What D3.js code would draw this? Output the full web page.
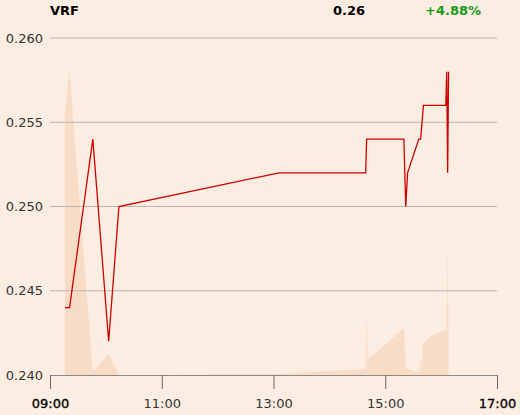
<!DOCTYPE html>
<html><head><meta charset="utf-8">
<script src="https://cdn.jsdelivr.net/npm/d3@7"></script>
<style>
html,body{margin:0;padding:0;background:#fbede1;}
svg{display:block;font-family:"DejaVu Sans",sans-serif;}
</style></head>
<body><svg id="c" width="520" height="415"></svg>
<script>
const symbol = "VRF";
const lastPrice = "0.26";
const change = "+4.88%";
const times = ["09:16","09:21","09:46","10:03","10:14","13:06","14:39","14:40","14:41","15:20","15:22","15:24","15:36","15:37","15:38","15:41","15:51","16:05","16:06","16:07","16:08"];
const prices = [0.244,0.244,0.254,0.242,0.250,0.252,0.252,0.254,0.254,0.254,0.250,0.252,0.254,0.254,0.254,0.256,0.256,0.256,0.258,0.252,0.258];
const volumes = [78,90,0.9,6.2,0,0.3,1.8,19.9,4.5,13.9,2.4,1.8,0.6,5.9,0.6,9.5,11.9,13.4,13.4,38.6,13.4];
const yTicks = [0.240,0.245,0.250,0.255,0.260];
const xTicks = ["09:00","11:00","13:00","15:00","17:00"];

const parse = s => { const [h,m] = s.split(":").map(Number); return new Date(2000,0,1,h,m); };
const svg = d3.select("#c");
const x = d3.scaleTime().domain([parse("09:00"), parse("17:00")]).range([50, 497]);
const y = d3.scaleLinear().domain([0.240, 0.260]).range([375, 38]);
const yv = d3.scaleLinear().domain([0, 100]).range([375, 38]);

const data = times.map((t,i) => ({t: parse(t), p: prices[i], v: volumes[i]}));

// volume area
svg.append("path").datum(data)
  .attr("fill", "#f8dcc6")
  .attr("d", d3.area().x(d => x(d.t)).y0(yv(0)).y1(d => yv(d.v)));

// gridlines
svg.append("g").selectAll("line").data(yTicks.slice(1)).join("line")
  .attr("x1", 50).attr("x2", 497)
  .attr("y1", d => y(d)).attr("y2", d => y(d))
  .attr("stroke", "#b8b4b0").attr("stroke-width", 1);

// y labels
svg.append("g").selectAll("text").data(yTicks).join("text")
  .attr("x", 43).attr("y", d => y(d)).attr("dy", "0.35em")
  .attr("text-anchor", "end").attr("font-size", 13).attr("fill", "#333")
  .text(d => d3.format(".3f")(d));

// x axis
const xa = svg.append("g").attr("transform", "translate(0,375)")
  .call(d3.axisBottom(x).tickValues(xTicks.map(parse)).tickFormat(d3.timeFormat("%H:%M")).tickSize(14).tickPadding(10));
xa.select(".domain").attr("stroke", "#8a8a8a").attr("d", "M50,0.5H497");
xa.selectAll(".tick line").attr("stroke", "#666");
xa.selectAll(".tick text").attr("font-size", 13).attr("font-family", "DejaVu Sans")
  .attr("fill", (d,i) => (i === 0 || i === xTicks.length-1) ? "#000" : "#333")
  .attr("stroke", (d,i) => (i === 0 || i === xTicks.length-1) ? "#000" : "none")
  .attr("stroke-width", 0.3);

// price line
svg.append("path").datum(data)
  .attr("fill", "none").attr("stroke", "#cc0000").attr("stroke-width", 1.3)
  .attr("d", d3.line().x(d => x(d.t)).y(d => y(d.p)));

// header
svg.append("text").attr("x", 50).attr("y", 15).attr("font-size", 13).attr("font-weight", "bold").attr("fill", "#000").text(symbol);
svg.append("text").attr("x", 365).attr("y", 15).attr("text-anchor", "end").attr("font-size", 13).attr("font-weight", "bold").attr("fill", "#000").text(lastPrice);
svg.append("text").attr("x", 481).attr("y", 15).attr("text-anchor", "end").attr("font-size", 13).attr("font-weight", "bold").attr("fill", "#1a9a1a").text(change);
</script></body></html>
